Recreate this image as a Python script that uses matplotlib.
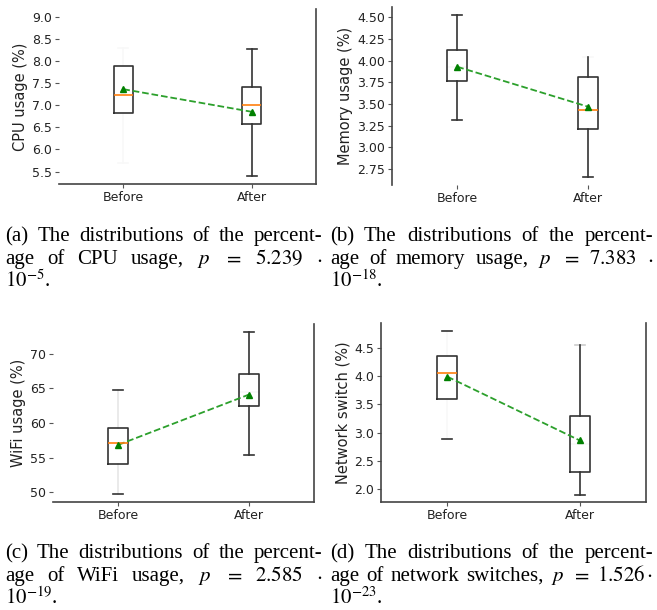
import matplotlib
matplotlib.use("Agg")
import matplotlib.pyplot as plt

plt.rcParams["mathtext.fontset"] = "stix"
plt.rcParams["font.family"] = ["DejaVu Sans"]

groups = ["Before", "After"]

# CPU usage (%)
cpu_med = [7.22, 7.01]
cpu_q1 = [6.83, 6.57]
cpu_q3 = [7.89, 7.40]
cpu_lo = [5.69, 5.39]
cpu_hi = [8.30, 8.27]
cpu_mean = [7.36, 6.85]

# Memory usage (%)
mem_med = [3.93, 3.435]
mem_q1 = [3.77, 3.21]
mem_q3 = [4.12, 3.815]
mem_lo = [3.32, 2.66]
mem_hi = [4.53, 4.045]
mem_mean = [3.93, 3.47]

# WiFi usage (%)
wifi_med = [57.1, 64.5]
wifi_q1 = [54.15, 62.5]
wifi_q3 = [59.35, 67.15]
wifi_lo = [49.7, 55.4]
wifi_hi = [64.75, 73.1]
wifi_mean = [56.85, 64.1]

# Network switch (%)
net_med = [4.05, 2.80]
net_q1 = [3.59, 2.30]
net_q3 = [4.36, 3.29]
net_lo = [2.88, 1.90]
net_hi = [4.80, 4.55]
net_mean = [3.99, 2.86]

cpu_ticks = [5.5, 6.0, 6.5, 7.0, 7.5, 8.0, 8.5, 9.0]
mem_ticks = [2.75, 3.00, 3.25, 3.50, 3.75, 4.00, 4.25, 4.50]
wifi_ticks = [50, 55, 60, 65, 70]
net_ticks = [2.0, 2.5, 3.0, 3.5, 4.0, 4.5]

captions = {
    "a": [["(a)", "The", "distributions", "of", "the", "percent-"],
          ["age", "of", "CPU", "usage,", "$p$", "$=$", "$5.239$", r"$\cdot$"],
          [r"$10^{-5}$."]],
    "b": [["(b)", "The", "distributions", "of", "the", "percent-"],
          ["age", "of", "memory", "usage,", "$p$", "$=$", "$7.383$", r"$\cdot$"],
          [r"$10^{-18}$."]],
    "c": [["(c)", "The", "distributions", "of", "the", "percent-"],
          ["age", "of", "WiFi", "usage,", "$p$", "$=$", "$2.585$", r"$\cdot$"],
          [r"$10^{-19}$."]],
    "d": [["(d)", "The", "distributions", "of", "the", "percent-"],
          ["age", "of", "network", "switches,", "$p$", "$=$", r"$1.526\cdot$"],
          [r"$10^{-23}$."]],
}

W, H = 657, 610
fig = plt.figure(figsize=(W / 100, H / 100), dpi=100)

FADE = "#f8f8f8"


def make_stats(med, q1, q3, lo, hi, mean):
    return [dict(med=med[i], q1=q1[i], q3=q3[i], whislo=lo[i], whishi=hi[i],
                 mean=mean[i], fliers=[], label=groups[i]) for i in range(len(groups))]


def panel(box, stats, ylim, ticks, fmt, ylabel, faint, hide_spines):
    l, r, b, t = box
    ax = fig.add_axes([l / W, 1 - b / H, (r - l) / W, (b - t) / H])
    art = ax.bxp(stats, positions=[1, 2], widths=0.15, showmeans=True,
                 showfliers=False,
                 boxprops=dict(color="#333333", lw=1.2),
                 whiskerprops=dict(color="#333333", lw=1.2),
                 capprops=dict(color="#333333", lw=1.2),
                 medianprops=dict(color="#ff7f0e", lw=1.2),
                 meanprops=dict(marker="^", markerfacecolor="green",
                                markeredgecolor="green", markersize=5))
    # some parts are barely visible in the original
    for key, idx, col in faint:
        art[key][idx].set_color(col)
        art[key][idx].set_zorder(1)
    means = [s["mean"] for s in stats]
    ax.plot([1, 2], means, "--", color="#2ca02c", lw=1.3)
    ax.set_xlim(0.5, 2.5)
    ax.set_ylim(*ylim)
    ax.set_yticks(ticks)
    ax.set_yticklabels([fmt.format(v) for v in ticks])
    ax.set_ylabel(ylabel, fontsize=10.5, color="#222222", labelpad=3)
    ax.tick_params(labelsize=9, length=3, width=0.8, colors="#555555",
                   labelcolor="#222222", pad=2)
    ax.spines["top"].set_visible(False)
    for s in hide_spines:
        ax.spines[s].set_visible(False)
    for s in ax.spines.values():
        s.set_color("#444444")
        s.set_linewidth(1.2)
    return ax


panel((59, 316, 184, 9), make_stats(cpu_med, cpu_q1, cpu_q3, cpu_lo, cpu_hi, cpu_mean),
      (5.22, 9.17), cpu_ticks, "{:.1f}", "CPU usage (%)",
      [("whiskers", 0, FADE), ("whiskers", 1, FADE), ("caps", 0, FADE), ("caps", 1, FADE)],
      ["left"])
panel((392, 653, 185, 7), make_stats(mem_med, mem_q1, mem_q3, mem_lo, mem_hi, mem_mean),
      (2.565, 4.62), mem_ticks, "{:.2f}", "Memory usage (%)",
      [("medians", 0, FADE), ("caps", 3, FADE)],
      ["bottom", "right"])
panel((53, 314, 502, 324), make_stats(wifi_med, wifi_q1, wifi_q3, wifi_lo, wifi_hi, wifi_mean),
      (48.6, 74.3), wifi_ticks, "{:d}", "WiFi usage (%)",
      [("whiskers", 0, "#e6e6e6"), ("whiskers", 1, "#e6e6e6"), ("medians", 1, FADE)],
      ["left"])
panel((381, 646, 502, 323), make_stats(net_med, net_q1, net_q3, net_lo, net_hi, net_mean),
      (1.77, 4.94), net_ticks, "{:.1f}", "Network switch (%)",
      [("whiskers", 0, FADE), ("whiskers", 1, FADE), ("medians", 1, FADE), ("caps", 3, "#cccccc")],
      [])

# Captions (justified like the LaTeX subcaptions)
renderer = fig.canvas.get_renderer()


def caption_line(tokens, x0, x1, y, justify):
    texts = [fig.text(0, 1 - y / H, t, fontsize=15, family="Liberation Serif",
                      va="baseline", ha="left") for t in tokens]
    widths = [t.get_window_extent(renderer).width for t in texts]
    if justify and len(texts) > 1:
        gap = (x1 - x0 - sum(widths)) / (len(texts) - 1)
    else:
        gap = 4
    x = x0
    for t, w in zip(texts, widths):
        t.set_x(x / W)
        x += w + gap


cols = {"a": (5, 322, 241), "b": (330, 653, 241), "c": (5, 322, 558), "d": (330, 653, 558)}
for key, lines in captions.items():
    x0, x1, y = cols[key]
    for i, toks in enumerate(lines):
        caption_line(toks, x0, x1, y + 23 * i, i < len(lines) - 1)

fig.savefig("out.png", dpi=100)
